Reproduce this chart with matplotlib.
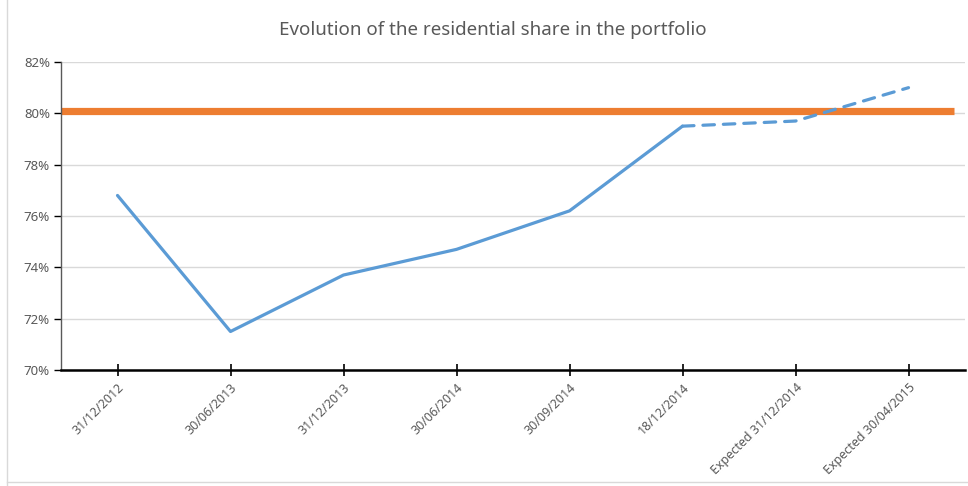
import matplotlib
matplotlib.use("Agg")
import matplotlib.pyplot as plt
from matplotlib.ticker import FuncFormatter

categories = ["31/12/2012", "30/06/2013", "31/12/2013", "30/06/2014", "30/09/2014",
              "18/12/2014", "Expected 31/12/2014", "Expected 30/04/2015"]
residential_share = [76.8, 71.5, 73.7, 74.7, 76.2, 79.5, 79.7, 81.0]
n_actual = 6  # first six points are actual, remaining are expected
target_share = 80.1

plt.rcParams['font.family'] = ['Noto Sans', 'DejaVu Sans']

fig = plt.figure(figsize=(9.68, 4.86), dpi=100)
ax = fig.add_axes([61/968, 1-370/486, 904/968, 308/486])

x = list(range(len(categories)))
blue = '#5B9BD5'
orange = '#ED7D31'

ax.plot([-0.5, 7.4], [target_share, target_share], color=orange, lw=5.2,
        solid_capstyle='butt', zorder=2)
ax.plot(x[:n_actual], residential_share[:n_actual], color=blue, lw=2.3,
        solid_joinstyle='round', solid_capstyle='round', zorder=3)
ax.plot(x[n_actual-1:], residential_share[n_actual-1:], color=blue, lw=2.3,
        dashes=(3.6, 2.8), dash_capstyle='round', zorder=3)

ax.set_xlim(-0.5, 7.5)
ax.set_ylim(70, 82)
ax.set_yticks([70, 72, 74, 76, 78, 80, 82])
ax.yaxis.set_major_formatter(FuncFormatter(lambda v, p: f"{v:.0f}%"))
ax.set_xticks(x)
ax.set_xticklabels(categories, rotation=45, ha='right', rotation_mode='anchor',
                   fontsize=9, color='#595959')
ax.tick_params(axis='y', labelsize=9.5, labelcolor='#595959', color='#000000',
               length=5, width=1, direction='out', pad=3)
ax.tick_params(axis='x', length=8, width=1.2, direction='inout', color='black', pad=4)

ax.grid(axis='y', color='#D9D9D9', lw=1)
ax.set_axisbelow(True)
for s in ['top', 'right']:
    ax.spines[s].set_visible(False)
ax.spines['left'].set_color('#595959')
ax.spines['left'].set_linewidth(1)
ax.spines['bottom'].set_color('#000000')
ax.spines['bottom'].set_linewidth(1.8)

fig.text(493/968, 1-30/486, "Evolution of the residential share in the portfolio",
         ha='center', va='center', fontsize=13.5, color='#595959')

# faint chart-area border
fig.add_artist(plt.Line2D([7/968, 7/968], [0, 1], transform=fig.transFigure,
                          color='#D9D9D9', lw=1))
fig.add_artist(plt.Line2D([7/968, 1], [4/486, 4/486], transform=fig.transFigure,
                          color='#D9D9D9', lw=1))

fig.savefig("out.png", dpi=100)
